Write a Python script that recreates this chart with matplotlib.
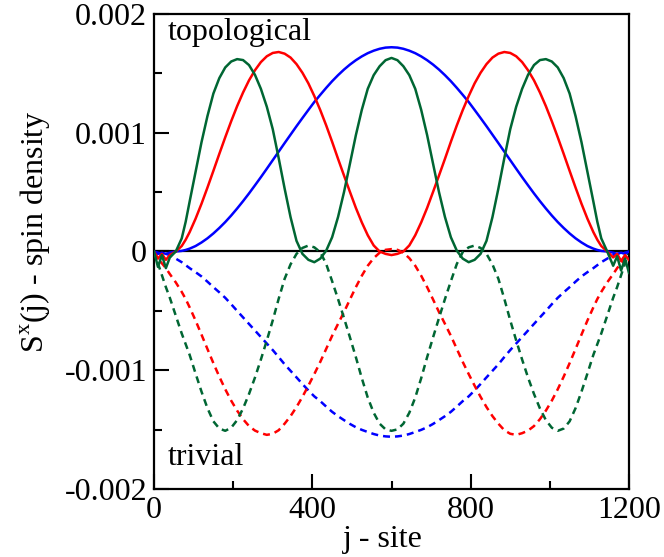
import matplotlib
matplotlib.use("Agg")
import matplotlib.pyplot as plt
from matplotlib.ticker import MultipleLocator, FixedLocator, FixedFormatter

plt.rcParams['font.family'] = ['Liberation Serif', 'DejaVu Serif']
plt.rcParams['mathtext.fontset'] = 'custom'
plt.rcParams['mathtext.rm'] = 'Liberation Serif'
plt.rcParams['axes.unicode_minus'] = False

# ---------------- data ----------------
# spin density values are given in units of 1e-6
UNIT = 1e-6

sites = [0, 10, 20, 30, 40, 55, 70, 80, 90, 105, 120, 135, 150, 165, 180, 195, 210,
         225, 240, 255, 270, 285, 300, 315, 330, 345, 360, 375, 390, 405, 420, 435,
         450, 465, 480, 495, 510, 525, 540, 555, 570, 585, 600,
         615, 630, 645, 660, 675, 690, 705, 720, 735, 750, 765, 780, 795, 810, 825,
         840, 855, 870, 885, 900, 915, 930, 945, 960, 975, 990, 1005, 1020, 1035,
         1050, 1065, 1080, 1095, 1110, 1120, 1130, 1145, 1160, 1170, 1180, 1190, 1200]

# topological (solid lines)
blue_topo = [0, -20, -10, -20, -10, 0, 5, 13, 24, 46, 76, 111, 152, 198, 248, 303, 362,
             424, 489, 557, 626, 697, 769, 841, 913, 984, 1055, 1124, 1192, 1259, 1319,
             1378, 1434, 1485, 1532, 1574, 1611, 1643, 1670, 1691, 1707, 1717, 1720,
             1717, 1707, 1691, 1670, 1643, 1611, 1574, 1532, 1485, 1434, 1378, 1319,
             1259, 1192, 1124, 1055, 984, 913, 841, 769, 697, 626, 557, 489, 424, 362,
             303, 248, 198, 152, 111, 76, 46, 24, 13, 5, 0, -10, -20, -10, -20, 0]
red_topo = [0, -60, -20, -70, -30, 0, 46, 99, 163, 276, 402, 538, 679, 822, 962, 1097,
            1224, 1339, 1441, 1526, 1595, 1644, 1672, 1680, 1666, 1633, 1578, 1505, 1416,
            1309, 1191, 1062, 924, 780, 640, 502, 367, 245, 137, 51, 0, -20, -30,
            -20, 0, 51, 137, 245, 367, 502, 640, 780, 924, 1062, 1191, 1309, 1416, 1505,
            1578, 1633, 1666, 1680, 1672, 1644, 1595, 1526, 1441, 1339, 1224, 1097, 962,
            822, 679, 538, 402, 276, 163, 99, 46, 0, -50, -20, -80, -30, -70]
green_topo = [0, -130, -30, -140, -50, 0, 110, 250, 420, 670, 920, 1140, 1330, 1460, 1550,
              1600, 1620, 1612, 1570, 1488, 1370, 1219, 1030, 786, 530, 289, 90, -20, -70,
              -90, -60, 7, 120, 291, 500, 739, 980, 1193, 1370, 1485, 1560, 1611, 1630,
              1611, 1560, 1485, 1370, 1193, 980, 739, 500, 291, 120, 7, -60, -90, -70,
              -20, 90, 289, 530, 786, 1030, 1219, 1370, 1488, 1570, 1612, 1620, 1600,
              1550, 1460, 1330, 1140, 920, 670, 420, 250, 110, 0, -120, -40, -160, -60,
              -180]

# trivial (dashed lines)
blue_triv = [0, -10, -20, -20, -30, -60, -90, -115, -140, -174, -210, -254, -300, -344,
             -390, -444, -500, -555, -610, -665, -720, -775, -830, -889, -950, -1005,
             -1060, -1116, -1170, -1220, -1260, -1306, -1350, -1387, -1420, -1452, -1480,
             -1502, -1520, -1537, -1550, -1557, -1560,
             -1557, -1550, -1537, -1520, -1502, -1480, -1452, -1420, -1387, -1350, -1306,
             -1260, -1220, -1170, -1116, -1060, -1005, -950, -889, -830, -775, -720,
             -665, -610, -555, -500, -444, -390, -344, -300, -254, -210, -174, -140,
             -115, -90, -60, -30, -20, -20, -10, 0]
red_triv = [0, -60, -100, -140, -190, -260, -340, -400, -470, -581, -700, -821, -940,
            -1054, -1160, -1256, -1340, -1412, -1470, -1508, -1530, -1544, -1535, -1505,
            -1450, -1386, -1310, -1224, -1130, -1032, -930, -820, -710, -609, -510, -404,
            -300, -204, -120, -56, -10, 14, 20,
            14, -10, -56, -120, -204, -300, -404, -510, -609, -710, -820, -930, -1032,
            -1130, -1224, -1310, -1386, -1450, -1505, -1535, -1544, -1530, -1508, -1470,
            -1412, -1340, -1256, -1160, -1054, -940, -821, -700, -581, -470, -400, -340,
            -260, -190, -140, -100, -60, 0]
green_triv = [0, -100, -200, -300, -390, -540, -690, -780, -870, -1027, -1180, -1319,
              -1430, -1491, -1510, -1484, -1420, -1322, -1200, -1062, -910, -749, -580,
              -398, -230, -108, -20, 30, 50, 35, -5, -105, -250, -401, -560, -723, -890,
              -1067, -1230, -1358, -1450, -1498, -1510,
              -1498, -1450, -1358, -1230, -1067, -890, -723, -560, -401, -250, -105, -5,
              35, 50, 30, -20, -108, -230, -398, -580, -749, -910, -1062, -1200, -1322,
              -1420, -1484, -1510, -1491, -1430, -1319, -1180, -1027, -870, -780, -690,
              -540, -390, -300, -200, -100, 0]

xticks = [0, 400, 800, 1200]
xtick_labels = ['0', '400', '800', '1200']
yticks = [-0.002, -0.001, 0, 0.001, 0.002]
ytick_labels = ['-0.002', '-0.001', '0', '0.001', '0.002']

# ---------------- figure ----------------
fig = plt.figure(figsize=(6.64, 5.57), dpi=100)
ax = fig.add_axes([154 / 664, 1 - 489 / 557, 475 / 664, 475 / 557])

BLUE = '#0000ff'
RED = '#ff0000'
GREEN = '#006633'
lw = 1.8
dash = (2.8, 2.0)


def scaled(vals):
    return [v * UNIT for v in vals]


ax.axhline(0, color='black', lw=1.6, zorder=1)

ax.plot(sites, scaled(blue_topo), color=BLUE, lw=lw, zorder=3)
ax.plot(sites, scaled(red_topo), color=RED, lw=lw, zorder=3)
ax.plot(sites, scaled(green_topo), color=GREEN, lw=lw, zorder=3)
ax.plot(sites, scaled(blue_triv), color=BLUE, lw=lw, ls=(0, dash), zorder=2)
ax.plot(sites, scaled(red_triv), color=RED, lw=lw, ls=(0, dash), zorder=2)
ax.plot(sites, scaled(green_triv), color=GREEN, lw=lw, ls=(0, dash), zorder=2)

ax.set_xlim(0, 1200)
ax.set_ylim(-0.002, 0.002)

ax.xaxis.set_major_locator(FixedLocator(xticks))
ax.xaxis.set_major_formatter(FixedFormatter(xtick_labels))
ax.xaxis.set_minor_locator(MultipleLocator(200))
ax.yaxis.set_major_locator(FixedLocator(yticks))
ax.yaxis.set_major_formatter(FixedFormatter(ytick_labels))
ax.yaxis.set_minor_locator(MultipleLocator(0.0005))

ax.tick_params(which='both', direction='in', width=1.5, labelsize=23)
ax.tick_params(which='major', length=11)
ax.tick_params(which='minor', length=6)
ax.tick_params(axis='y', pad=5)
ax.tick_params(axis='x', pad=5)
for s in ax.spines.values():
    s.set_linewidth(1.6)

ax.text(0.028, 0.945, 'topological', transform=ax.transAxes, fontsize=23,
        ha='left', va='baseline')
ax.text(0.028, 0.05, 'trivial', transform=ax.transAxes, fontsize=23,
        ha='left', va='baseline')

fig.text(383 / 664, 1 - 540 / 557, 'j - site', fontsize=23, ha='center', va='center')
fig.text(36 / 664, 1 - 232 / 557, r'S$^{\mathrm{x}}$(j) - spin density', fontsize=23,
         ha='center', va='center', rotation=90)

fig.savefig('out.png', dpi=100)
